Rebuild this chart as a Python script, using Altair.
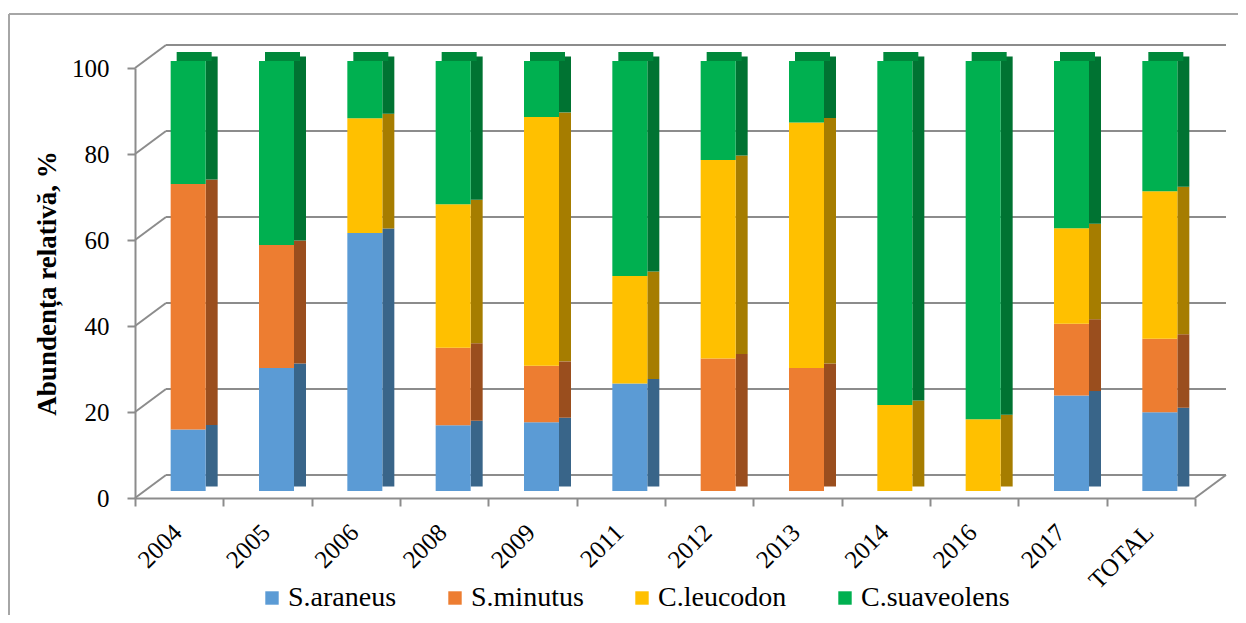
import altair as alt
import pandas as pd

categories = ["2004", "2005", "2006", "2008", "2009", "2011", "2012", "2013",
              "2014", "2016", "2017", "TOTAL"]
series = ["S.araneus", "S.minutus", "C.leucodon", "C.suaveolens"]
s_araneus = [14.3, 28.6, 60.0, 15.3, 16.0, 25.0, 0.0, 0.0, 0.0, 0.0, 22.2, 18.3]
s_minutus = [57.1, 28.6, 0.0, 18.0, 13.1, 0.0, 30.8, 28.6, 0.0, 0.0, 16.7, 17.1]
c_leucodon = [0.0, 0.0, 26.7, 33.4, 57.9, 25.0, 46.2, 57.1, 20.0, 16.7, 22.2, 34.3]
c_suaveolens = [28.6, 42.8, 13.3, 33.3, 13.0, 50.0, 23.0, 14.3, 80.0, 83.3, 38.9, 30.3]
y_ticks = [0, 20, 40, 60, 80, 100]

front_colors = ["#5B9BD5", "#ED7D31", "#FFC000", "#00B050"]
side_colors = ["#396589", "#9A4E1E", "#A67D00", "#007332"]
top_color = "#00883B"
grid_color = "#8C8C8C"
FONT = "Liberation Serif, Times New Roman, DejaVu Serif, serif"

W, H = 1060, 430
DEPTH_X, DEPTH_Y = 31, -23

rows = []
for i, vals in enumerate([s_araneus, s_minutus, c_leucodon, c_suaveolens]):
    for c, v in zip(categories, vals):
        rows.append({"cat": c, "species": series[i], "value": v, "ord": i})
df = pd.DataFrame(rows)
ticks_df = pd.DataFrame({"v": y_ticks})
zero_df = pd.DataFrame({"v": [0]})
one_df = pd.DataFrame({"a": [0]})

x_enc = alt.X("cat:N", sort=categories,
              scale=alt.Scale(paddingInner=0, paddingOuter=0),
              axis=alt.Axis(title=None, labelAngle=-45, labelFont=FONT,
                            labelFontSize=25, labelColor="black",
                            labelAlign="right", labelBaseline="middle",
                            labelOffset=-2,
                            tickBand="extent", tickSize=8, tickColor=grid_color,
                            tickWidth=2, domainColor=grid_color, domainWidth=2,
                            labelPadding=22))
y_scale = alt.Scale(domain=[0, 100], nice=False)
y_enc = alt.Y("value:Q", stack="zero", scale=y_scale,
              axis=alt.Axis(title="Abundența relativă, %", values=y_ticks,
                            titleFont=FONT, titleFontSize=27, titleFontWeight="bold",
                            titleColor="black", titlePadding=10,
                            labelFont=FONT, labelFontSize=25, labelColor="black",
                            labelPadding=18, tickSize=8, tickColor=grid_color,
                            tickWidth=2, domainColor=grid_color, domainWidth=2,
                            grid=False))

border_left = alt.Chart(one_df).mark_rule(color="#A6A6A6", strokeWidth=2).encode(
    x=alt.value(-126), y=alt.value(-54), y2=alt.value(560))
border_top = alt.Chart(one_df).mark_rule(color="#A6A6A6", strokeWidth=2).encode(
    x=alt.value(-126), x2=alt.value(1111), y=alt.value(-54))

back_grid = alt.Chart(ticks_df).mark_rule(
    color=grid_color, strokeWidth=2, yOffset=DEPTH_Y).encode(
    y=alt.Y("v:Q", scale=y_scale), x=alt.value(DEPTH_X), x2=alt.value(W + DEPTH_X))
diag = alt.Chart(ticks_df).mark_rule(
    color=grid_color, strokeWidth=2, y2Offset=DEPTH_Y).encode(
    y=alt.Y("v:Q", scale=y_scale), y2="v:Q", x=alt.value(0), x2=alt.value(DEPTH_X))
floor_right = alt.Chart(zero_df).mark_rule(
    color=grid_color, strokeWidth=2, y2Offset=DEPTH_Y).encode(
    y=alt.Y("v:Q", scale=y_scale), y2="v:Q", x=alt.value(W), x2=alt.value(W + DEPTH_X))

side = alt.Chart(df).mark_bar(size=12, xOffset=32.5, yOffset=-11.5, y2Offset=-11.5).encode(
    x=x_enc, y=y_enc,
    color=alt.Color("species:N", scale=alt.Scale(domain=series, range=side_colors),
                    legend=None),
    order=alt.Order("ord:Q", sort="ascending"))

top = alt.Chart(df).transform_aggregate(
    total="sum(value)", groupby=["cat"]
).mark_bar(size=35, xOffset=15, yOffset=-16, y2Offset=-7, color=top_color).encode(
    x=x_enc, y=alt.Y("total:Q", scale=y_scale), y2="total:Q")

front = alt.Chart(df).mark_bar(size=35, xOffset=9, yOffset=-7, y2Offset=-7).encode(
    x=x_enc, y=y_enc,
    color=alt.Color("species:N", sort=series,
                    scale=alt.Scale(domain=series, range=front_colors),
                    legend=alt.Legend(title=None, orient="none", legendX=123,
                                      legendY=516, direction="horizontal",
                                      columns=4, symbolType="square",
                                      symbolSize=180, symbolStrokeWidth=0,
                                      labelFont=FONT, labelFontSize=28,
                                      labelColor="black", labelOffset=2,
                                      columnPadding=44, padding=0)),
    order=alt.Order("ord:Q", sort="ascending"))

chart = alt.layer(border_left, border_top, back_grid, diag, floor_right,
                  side, top, front).resolve_scale(color="independent").properties(
    width=W, height=H,
    autosize=alt.AutoSizeParams(type="none"),
    padding={"left": 127, "top": 60, "right": 43, "bottom": 117},
).configure_view(stroke=None)

chart.save("out.html", embed_options={"renderer": "svg", "actions": False})
